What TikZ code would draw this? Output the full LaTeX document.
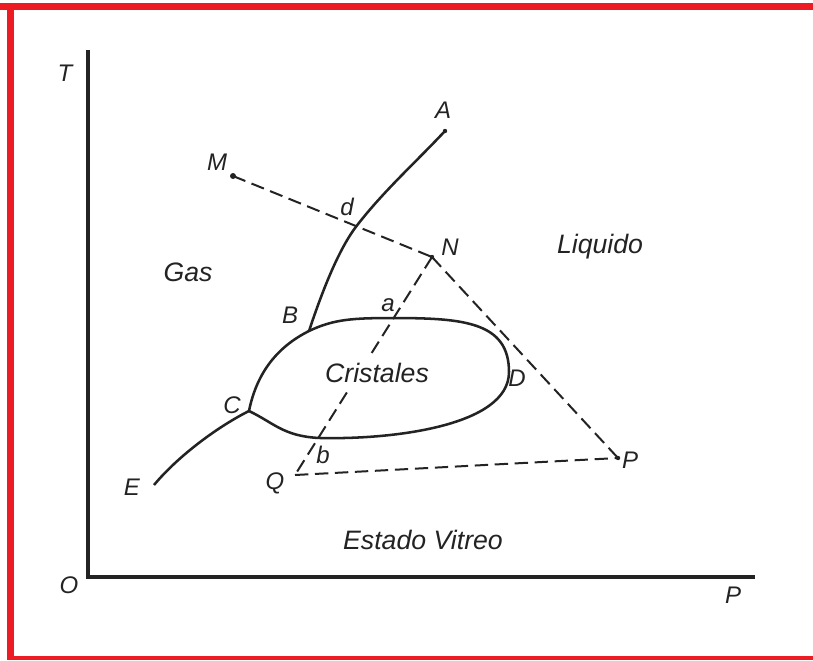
\documentclass[tikz,border=0pt]{standalone}
\usepackage{fontspec}
\setmainfont{Liberation Sans}
\usetikzlibrary{calc}
\definecolor{framered}{RGB}{237,28,36}
\definecolor{ink}{RGB}{35,35,35}

\begin{document}
\begin{tikzpicture}[x=0.75pt, y=-0.75pt,
  lbl/.style={font=\itshape\fontsize{18}{20}\selectfont, text=ink, inner sep=1pt},
  reg/.style={font=\itshape\fontsize{20}{24}\selectfont, text=ink, inner sep=1pt},
  ax/.style={ink, line width=2.3pt},
  crv/.style={ink, line width=1.9pt},
  dsh/.style={ink, line width=1.5pt, dash pattern=on 10pt off 5pt}
]
\useasboundingbox (0,0) rectangle (813,660);
\fill[framered] (0,3) rectangle (813,10);
\fill[framered] (7,3) rectangle (14,660);
\fill[framered] (7,656) rectangle (813,660);
% points of the diagram
\coordinate (O) at (88,577);
\coordinate (Ttop) at (88,50);
\coordinate (Pend) at (755,577);
\coordinate (A) at (445,131);
\coordinate (M) at (233,176);
\coordinate (N) at (432,257);
\coordinate (P) at (618,458);
\coordinate (Q) at (295,475);
\coordinate (B) at (309,331);
\coordinate (C) at (249,411);
\coordinate (D) at (509,372);
\coordinate (E) at (154,485);
\coordinate (d) at ($(M)!0.62!(N)$);
\coordinate (a) at ($(N)!0.28!(Q)$);
\coordinate (b) at ($(N)!0.83!(Q)$);
% axes
\draw[ax] (Ttop) -- (O) -- (Pend);
% curves
\draw[crv] (A) .. controls +(-30,32) and +(27,-35) .. (d) .. controls +(-20,26) and +(10,-30) .. (B);
\draw[crv] (C) .. controls +(8,-40) and +(-30,15) .. (B) .. controls +(25,-12) and +(-40,0) .. (a) .. controls +(70,0) and +(0,-50) .. (D) .. controls +(0,55) and +(70,2) .. (b) .. controls +(-35,-2) and +(25,12) .. (C);
\draw[crv] (C) .. controls +(-30,15) and +(25,-30) .. (E);
% dashed lines
\draw[dsh] (M) -- (N);
\draw[dsh] (N) -- (P);
\draw[dsh] (Q) -- (P);
\draw[dsh] (N) -- (Q);
\fill[ink] (M) circle (3);
\foreach \p in {A,N,P} \fill[ink] (\p) circle (2.2);
% labels
\node[lbl] (lT) at (65,73) {T};
\node[lbl] (lO) at (69,585) {O};
\node[lbl] (lP) at (733,595) {P};
\node[lbl] (lA) at (443,110) {A};
\node[lbl] (lM) at (217,162) {M};
\node[lbl] (ld) at (347,207) {d};
\node[lbl] (lN) at (450,247) {N};
\node[lbl] (lB) at (290,315) {B};
\node[lbl] (la) at (388,305) {a};
\node[lbl] (lD) at (517,378) {D};
\node[lbl] (lC) at (232,405) {C};
\node[lbl] (lb) at (323,455) {b};
\node[lbl] (lQ) at (275,483) {Q};
\node[lbl] (lE) at (132,487) {E};
\node[lbl] (lPp) at (630,460) {P};
\node[reg] (gas) at (188,272) {Gas};
\node[reg] (liq) at (600,247) {Liquido};
\node[reg, fill=white, inner sep=4pt] (cri) at (377,373) {Cristales};
\node[reg] (vit) at (423,540) {Estado Vitreo};
\end{tikzpicture}
\end{document}
